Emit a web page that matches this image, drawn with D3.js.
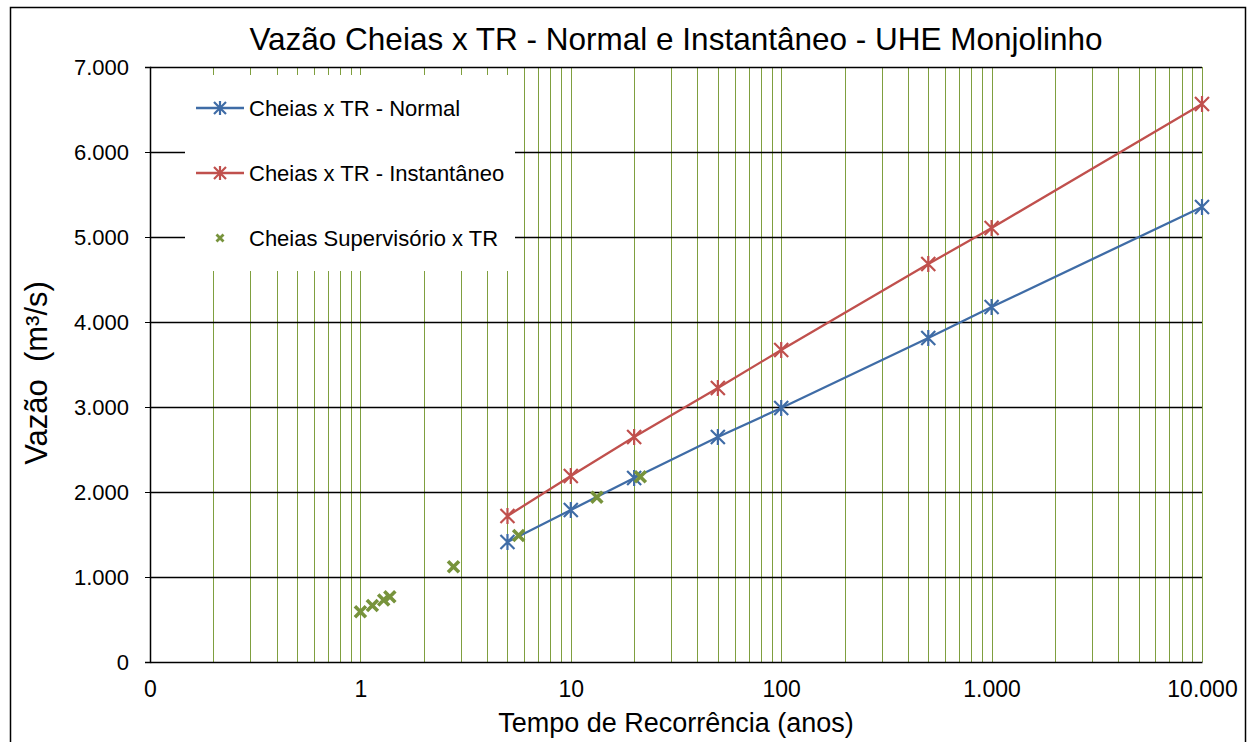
<!DOCTYPE html>
<html><head><meta charset="utf-8">
<script src="https://cdn.jsdelivr.net/npm/d3@7"></script>
<style>body{margin:0;background:#fff}svg{display:block;font-family:"Liberation Sans",Arial,sans-serif}</style>
</head><body><svg id="c" width="1252" height="742"></svg>
<script>
const trNormal = [5, 10, 20, 50, 100, 500, 1000, 10000];
const qNormal = [1412, 1788, 2165, 2647, 2988, 3812, 4176, 5353];
const trInst = [5, 10, 20, 50, 100, 500, 1000, 10000];
const qInst = [1718, 2188, 2647, 3224, 3671, 4682, 5106, 6565];
const trSup = [1.0, 1.14, 1.29, 1.38, 2.77, 5.65, 13.3, 21.4];
const qSup = [592, 665, 730, 768, 1121, 1488, 1938, 2180];
const xTicks = [0.1, 1, 10, 100, 1000, 10000];
const yTicks = [0, 1000, 2000, 3000, 4000, 5000, 6000, 7000];
const seriesNames = ["Cheias x TR - Normal", "Cheias x TR - Instantâneo", "Cheias Supervisório x TR"];
const colors = {blue: "#3F6CA6", red: "#C0504D", green: "#77933C", grid: "#7F9F3F"};

const svg = d3.select("#c");
const L = 150, R = 1202, T = 67, B = 662;
const x = d3.scaleLog().domain([0.1, 10000]).range([L, R]);
const y = d3.scaleLinear().domain([0, 7000]).range([B, T]);
const loc = d3.formatLocale({decimal: ",", thousands: ".", grouping: [3], currency: ["", ""]});
const fmt = loc.format(",.0f");

// outer border
svg.append("rect").attr("x", 10.5).attr("y", 7.5).attr("width", 1235).attr("height", 760)
  .attr("fill", "none").attr("stroke", "#000").attr("stroke-width", 1.5);

// title
svg.append("text").attr("x", 676).attr("y", 50).attr("text-anchor", "middle")
  .attr("font-size", 31.5).attr("fill", "#000").text("Vazão Cheias x TR - Normal e Instantâneo - UHE Monjolinho");

// vertical minor/major gridlines
const vgrid = [];
for (let d = -1; d < 4; d++) for (let m = 1; m <= 9; m++) vgrid.push(m * Math.pow(10, d));
vgrid.push(10000);
const vg = vgrid.filter(v => v > 0.1);
svg.append("g").selectAll("line").data(vg).join("line")
  .attr("x1", d => Math.round(x(d)) + 0.5).attr("x2", d => Math.round(x(d)) + 0.5)
  .attr("y1", T).attr("y2", B).attr("stroke", colors.grid).attr("stroke-width", 1);

// horizontal gridlines
svg.append("g").selectAll("line").data(yTicks.filter(v => v > 0)).join("line")
  .attr("x1", L).attr("x2", R).attr("y1", d => Math.round(y(d)) + 0.5).attr("y2", d => Math.round(y(d)) + 0.5)
  .attr("stroke", "#000").attr("stroke-width", 1.3);

// axes
const yAxis = svg.append("g").attr("transform", `translate(${L},0)`)
  .call(d3.axisLeft(y).tickValues(yTicks).tickFormat(fmt).tickSize(5).tickPadding(16));
const xAxis = svg.append("g").attr("transform", `translate(0,${B})`)
  .call(d3.axisBottom(x).tickValues(xTicks).tickFormat(fmt).tickSize(0).tickPadding(19));
[yAxis, xAxis].forEach((a, i) => {
  a.select(".domain").attr("stroke", "#000").attr("stroke-width", 1.5);
  a.selectAll(".tick line").attr("stroke", "#000");
  a.selectAll("text").attr("font-size", i === 0 ? 22 : 23).attr("fill", "#000").attr("font-family", "Liberation Sans, Arial, sans-serif");
});

// axis titles
svg.append("text").attr("x", 676).attr("y", 732).attr("text-anchor", "middle")
  .attr("font-size", 27).attr("fill", "#000").text("Tempo de Recorrência (anos)");
svg.append("text").attr("transform", "translate(47,373) rotate(-90)").attr("text-anchor", "middle")
  .attr("xml:space", "preserve").style("white-space", "pre")
  .attr("font-size", 31).attr("fill", "#000").text("Vazão  (m³/s)");

// legend box (covers gridlines)
svg.append("rect").attr("x", 185).attr("y", 75).attr("width", 330).attr("height", 196).attr("fill", "#fff");

function star(g, cx, cy, color, s) {
  g.append("path").attr("d", `M${cx - s},${cy - s}L${cx + s},${cy + s}M${cx - s},${cy + s}L${cx + s},${cy - s}M${cx},${cy - s * 1.15}L${cx},${cy + s * 1.15}`)
    .attr("stroke", color).attr("stroke-width", 2.2).attr("fill", "none");
}
function xmark(g, cx, cy, color, s, w) {
  g.append("path").attr("d", `M${cx - s},${cy - s}L${cx + s},${cy + s}M${cx - s},${cy + s}L${cx + s},${cy - s}`)
    .attr("stroke", color).attr("stroke-width", w).attr("fill", "none");
}

const line = d3.line().x(d => x(d[0])).y(d => y(d[1]));
const dN = trNormal.map((t, i) => [t, qNormal[i]]);
const dI = trInst.map((t, i) => [t, qInst[i]]);
const dS = trSup.map((t, i) => [t, qSup[i]]);

const gN = svg.append("g");
gN.append("path").attr("d", line(dN)).attr("fill", "none").attr("stroke", colors.blue).attr("stroke-width", 2.3);
dN.forEach(d => star(gN, x(d[0]), y(d[1]), colors.blue, 7));
const gI = svg.append("g");
gI.append("path").attr("d", line(dI)).attr("fill", "none").attr("stroke", colors.red).attr("stroke-width", 2.3);
dI.forEach(d => star(gI, x(d[0]), y(d[1]), colors.red, 7));
const gS = svg.append("g");
dS.forEach(d => xmark(gS, x(d[0]), y(d[1]), colors.green, 5.5, 3.6));

// legend
const lg = svg.append("g");
const ly = [108, 173, 238];
lg.append("line").attr("x1", 196).attr("x2", 244).attr("y1", ly[0]).attr("y2", ly[0]).attr("stroke", colors.blue).attr("stroke-width", 2.3);
star(lg, 220, ly[0], colors.blue, 6);
lg.append("line").attr("x1", 196).attr("x2", 244).attr("y1", ly[1]).attr("y2", ly[1]).attr("stroke", colors.red).attr("stroke-width", 2.3);
star(lg, 220, ly[1], colors.red, 6);
xmark(lg, 220, ly[2], colors.green, 3.5, 2.8);
lg.selectAll("text").data(seriesNames).join("text")
  .attr("x", 249).attr("y", (d, i) => ly[i] + 8).attr("font-size", 22).attr("fill", "#000").text(d => d);
</script></body></html>
